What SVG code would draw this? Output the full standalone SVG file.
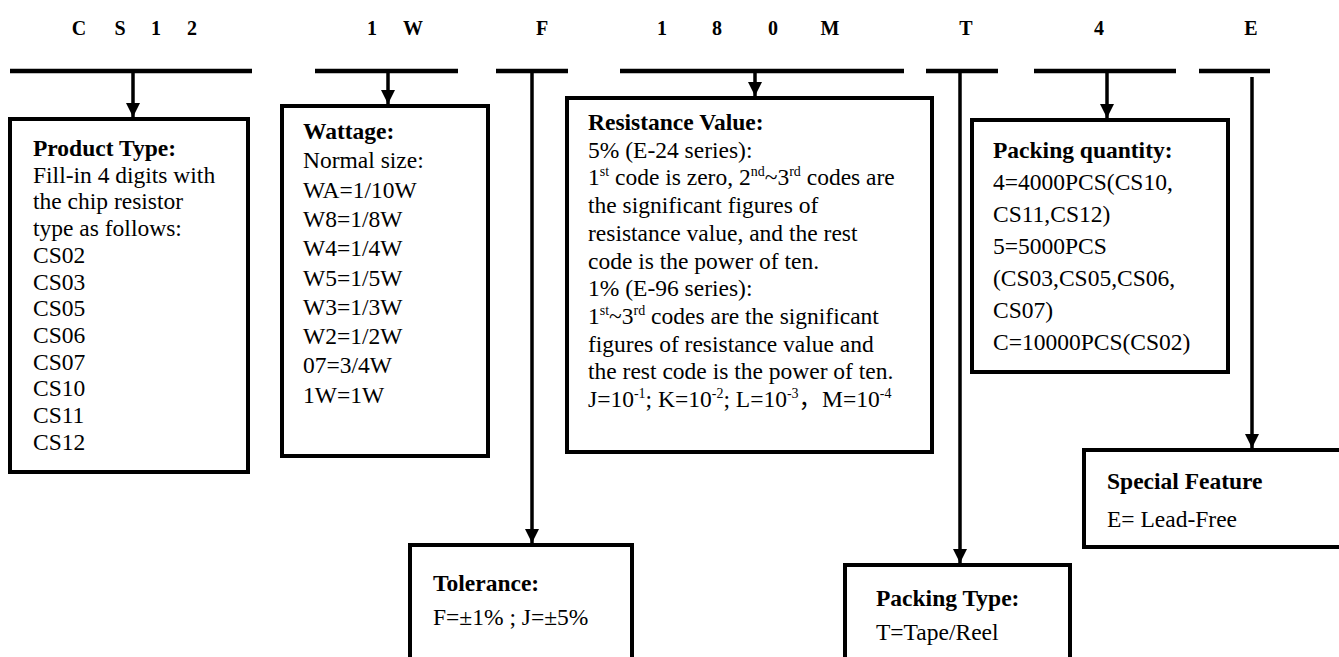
<svg xmlns="http://www.w3.org/2000/svg" width="1339" height="657" viewBox="0 0 1339 657">
<style>
  .code{font-family:"Liberation Serif","Times New Roman",serif;font-weight:bold;font-size:20px;fill:#000;text-anchor:middle}
  .t{font-family:"Liberation Serif","Times New Roman","Noto Sans CJK SC",serif;font-size:23.5px;fill:#000}
  .b{font-weight:bold}
  .box{fill:#fff;stroke:#000;stroke-width:4}
  .bar{stroke:#000;stroke-width:4.5;fill:none}
  .arrow{stroke:#000;stroke-width:3.5;fill:none;marker-end:url(#ah)}
  .sup{font-size:14px}
</style>
<defs>
  <marker id="ah" markerUnits="userSpaceOnUse" markerWidth="14" markerHeight="16" refX="14" refY="7" orient="auto">
    <path d="M0,0 L14,7 L0,14 z" fill="#000"/>
  </marker>
</defs>
<rect width="1339" height="657" fill="#fff"/>

<g id="code-labels">
  <text class="code" x="79" y="35">C</text>
  <text class="code" x="120" y="35">S</text>
  <text class="code" x="156" y="35">1</text>
  <text class="code" x="192" y="35">2</text>
  <text class="code" x="372" y="35">1</text>
  <text class="code" x="413" y="35">W</text>
  <text class="code" x="542" y="35">F</text>
  <text class="code" x="662" y="35">1</text>
  <text class="code" x="717" y="35">8</text>
  <text class="code" x="773" y="35">0</text>
  <text class="code" x="830" y="35">M</text>
  <text class="code" x="966" y="35">T</text>
  <text class="code" x="1099" y="35">4</text>
  <text class="code" x="1251" y="35">E</text>
</g>

<g id="connectors">
  <line class="bar" x1="10" y1="71" x2="252" y2="71"/>
  <line class="bar" x1="315" y1="71" x2="458" y2="71"/>
  <line class="bar" x1="496" y1="71" x2="568" y2="71"/>
  <line class="bar" x1="620" y1="71" x2="904" y2="71"/>
  <line class="bar" x1="926" y1="71" x2="998" y2="71"/>
  <line class="bar" x1="1034" y1="71" x2="1176" y2="71"/>
  <line class="bar" x1="1199" y1="71" x2="1270" y2="71"/>
  <line class="arrow" x1="133" y1="73" x2="133" y2="117"/>
  <line class="arrow" x1="388" y1="73" x2="388" y2="104"/>
  <line class="arrow" x1="532" y1="73" x2="532" y2="543"/>
  <line class="arrow" x1="755" y1="73" x2="755" y2="96"/>
  <line class="arrow" x1="960" y1="73" x2="960" y2="563"/>
  <line class="arrow" x1="1107" y1="73" x2="1107" y2="118"/>
  <line class="arrow" x1="1252" y1="77" x2="1252" y2="448"/>
</g>

<g id="product-type">
  <rect class="box" x="10" y="119" width="238" height="353"/>
  <text class="t b" x="33" y="156">Product Type:</text>
  <text class="t" x="33" y="182.7">Fill-in 4 digits with</text>
  <text class="t" x="33" y="209.4">the chip resistor</text>
  <text class="t" x="33" y="236.1">type as follows:</text>
  <text class="t" x="33" y="262.8">CS02</text>
  <text class="t" x="33" y="289.5">CS03</text>
  <text class="t" x="33" y="316.2">CS05</text>
  <text class="t" x="33" y="342.9">CS06</text>
  <text class="t" x="33" y="369.6">CS07</text>
  <text class="t" x="33" y="396.3">CS10</text>
  <text class="t" x="33" y="423">CS11</text>
  <text class="t" x="33" y="449.7">CS12</text>
</g>

<g id="wattage">
  <rect class="box" x="282" y="106" width="206" height="350"/>
  <text class="t b" x="303" y="139">Wattage:</text>
  <text class="t" x="303" y="168.3">Normal size:</text>
  <text class="t" x="303" y="197.6">WA=1/10W</text>
  <text class="t" x="303" y="226.9">W8=1/8W</text>
  <text class="t" x="303" y="256.2">W4=1/4W</text>
  <text class="t" x="303" y="285.5">W5=1/5W</text>
  <text class="t" x="303" y="314.8">W3=1/3W</text>
  <text class="t" x="303" y="344.1">W2=1/2W</text>
  <text class="t" x="303" y="373.4">07=3/4W</text>
  <text class="t" x="303" y="402.7">1W=1W</text>
</g>

<g id="tolerance">
  <rect class="box" x="410" y="545" width="222" height="130"/>
  <text class="t b" x="433" y="591">Tolerance:</text>
  <text class="t" x="433" y="625">F=±1% ; J=±5%</text>
</g>

<g id="resistance-value">
  <rect class="box" x="567" y="98" width="365" height="354"/>
  <text class="t b" x="588" y="130">Resistance Value:</text>
  <text class="t" x="588" y="157.7">5% (E-24 series):</text>
  <text class="t" x="588" y="185.4">1<tspan class="sup" dy="-9">st</tspan><tspan dy="9"> code is zero, 2</tspan><tspan class="sup" dy="-9">nd</tspan><tspan dy="9">~3</tspan><tspan class="sup" dy="-9">rd</tspan><tspan dy="9"> codes are</tspan></text>
  <text class="t" x="588" y="213.1">the significant figures of</text>
  <text class="t" x="588" y="240.8">resistance value, and the rest</text>
  <text class="t" x="588" y="268.5">code is the power of ten.</text>
  <text class="t" x="588" y="296.2">1% (E-96 series):</text>
  <text class="t" x="588" y="323.9">1<tspan class="sup" dy="-9">st</tspan><tspan dy="9">~3</tspan><tspan class="sup" dy="-9">rd</tspan><tspan dy="9"> codes are the significant</tspan></text>
  <text class="t" x="588" y="351.6">figures of resistance value and</text>
  <text class="t" x="588" y="379.3">the rest code is the power of ten.</text>
  <text class="t" x="588" y="407">J=10<tspan class="sup" dy="-9">-1</tspan><tspan dy="9">; K=10</tspan><tspan class="sup" dy="-9">-2</tspan><tspan dy="9">; L=10</tspan><tspan class="sup" dy="-9">-3</tspan><tspan dy="9">，M=10</tspan><tspan class="sup" dy="-9">-4</tspan></text>
</g>

<g id="packing-type">
  <rect class="box" x="845" y="565" width="225" height="110"/>
  <text class="t b" x="876" y="606">Packing Type:</text>
  <text class="t" x="876" y="640">T=Tape/Reel</text>
</g>

<g id="packing-quantity">
  <rect class="box" x="972" y="120" width="256" height="252"/>
  <text class="t b" x="993" y="158">Packing quantity:</text>
  <text class="t" x="993" y="190">4=4000PCS(CS10,</text>
  <text class="t" x="993" y="222">CS11,CS12)</text>
  <text class="t" x="993" y="254">5=5000PCS</text>
  <text class="t" x="993" y="286">(CS03,CS05,CS06,</text>
  <text class="t" x="993" y="318">CS07)</text>
  <text class="t" x="993" y="350">C=10000PCS(CS02)</text>
</g>

<g id="special-feature">
  <rect class="box" x="1084" y="450" width="270" height="97"/>
  <text class="t b" x="1107" y="489">Special Feature</text>
  <text class="t" x="1107" y="527">E= Lead-Free</text>
</g>
</svg>
